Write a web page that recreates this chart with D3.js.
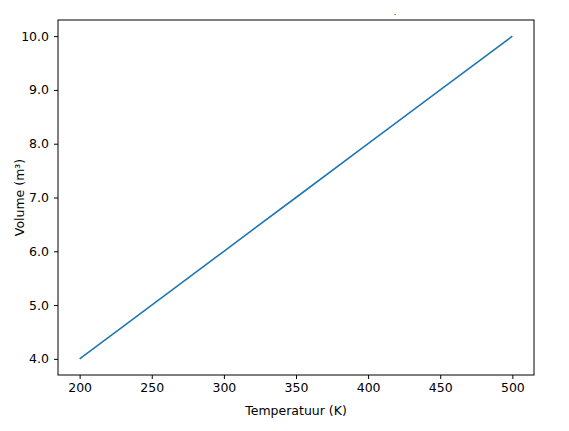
<!DOCTYPE html>
<html><head><meta charset="utf-8">
<script src="https://cdn.jsdelivr.net/npm/d3@7.9.0/dist/d3.min.js"></script>
<style>body{margin:0;background:#fff}text{font-family:"DejaVu Sans",sans-serif}</style>
</head><body>
<svg id="chart" width="569" height="431"></svg>
<script>
// data
const temperature = [200, 250, 300, 350, 400, 450, 500];
const volume = [4, 5, 6, 7, 8, 9, 10];
const xTicks = [200, 250, 300, 350, 400, 450, 500];
const yTicks = [4, 5, 6, 7, 8, 9, 10];

const svg = d3.select('#chart');
const plotLeft = 58, plotRight = 534, plotTop = 20, plotBottom = 375;

const x = d3.scaleLinear().domain([185, 515]).range([plotLeft, plotRight]);
const y = d3.scaleLinear().domain([3.7, 10.3]).range([plotBottom, plotTop]);

svg.append('g')
    .attr('transform', `translate(0,${plotBottom})`)
    .call(d3.axisBottom(x).tickValues(xTicks).tickSize(4).tickPadding(4))
    .call(g => g.select('.domain').remove())
    .selectAll('text').attr('font-size', 12.5).attr('fill', '#000');

svg.append('g')
    .attr('transform', `translate(${plotLeft},0)`)
    .call(d3.axisLeft(y).tickValues(yTicks).tickSize(4).tickPadding(5))
    .call(g => g.select('.domain').remove())
    .selectAll('text').attr('font-size', 12.5).attr('fill', '#000');

svg.append('rect')
    .attr('x', plotLeft).attr('y', plotTop)
    .attr('width', plotRight - plotLeft).attr('height', plotBottom - plotTop)
    .attr('fill', 'none').attr('stroke', '#000').attr('stroke-width', 1);

const line = d3.line().x((d, i) => x(temperature[i])).y(d => y(d));
svg.append('path')
    .datum(volume)
    .attr('d', line)
    .attr('fill', 'none')
    .attr('stroke', '#1f77b4')
    .attr('stroke-width', 1.6);

svg.append('text')
    .attr('x', (plotLeft + plotRight) / 2).attr('y', 415)
    .attr('text-anchor', 'middle').attr('font-size', 12.5)
    .text('Temperatuur (K)');

svg.append('text')
    .attr('transform', `translate(24,${(plotTop + plotBottom) / 2}) rotate(-90)`)
    .attr('text-anchor', 'middle').attr('font-size', 12.5)
    .text('Volume (m³)');

svg.append('text')
    .attr('x', 395).attr('y', 15)
    .attr('text-anchor', 'middle').attr('font-size', 8)
    .text('.');
</script>
</body></html>
